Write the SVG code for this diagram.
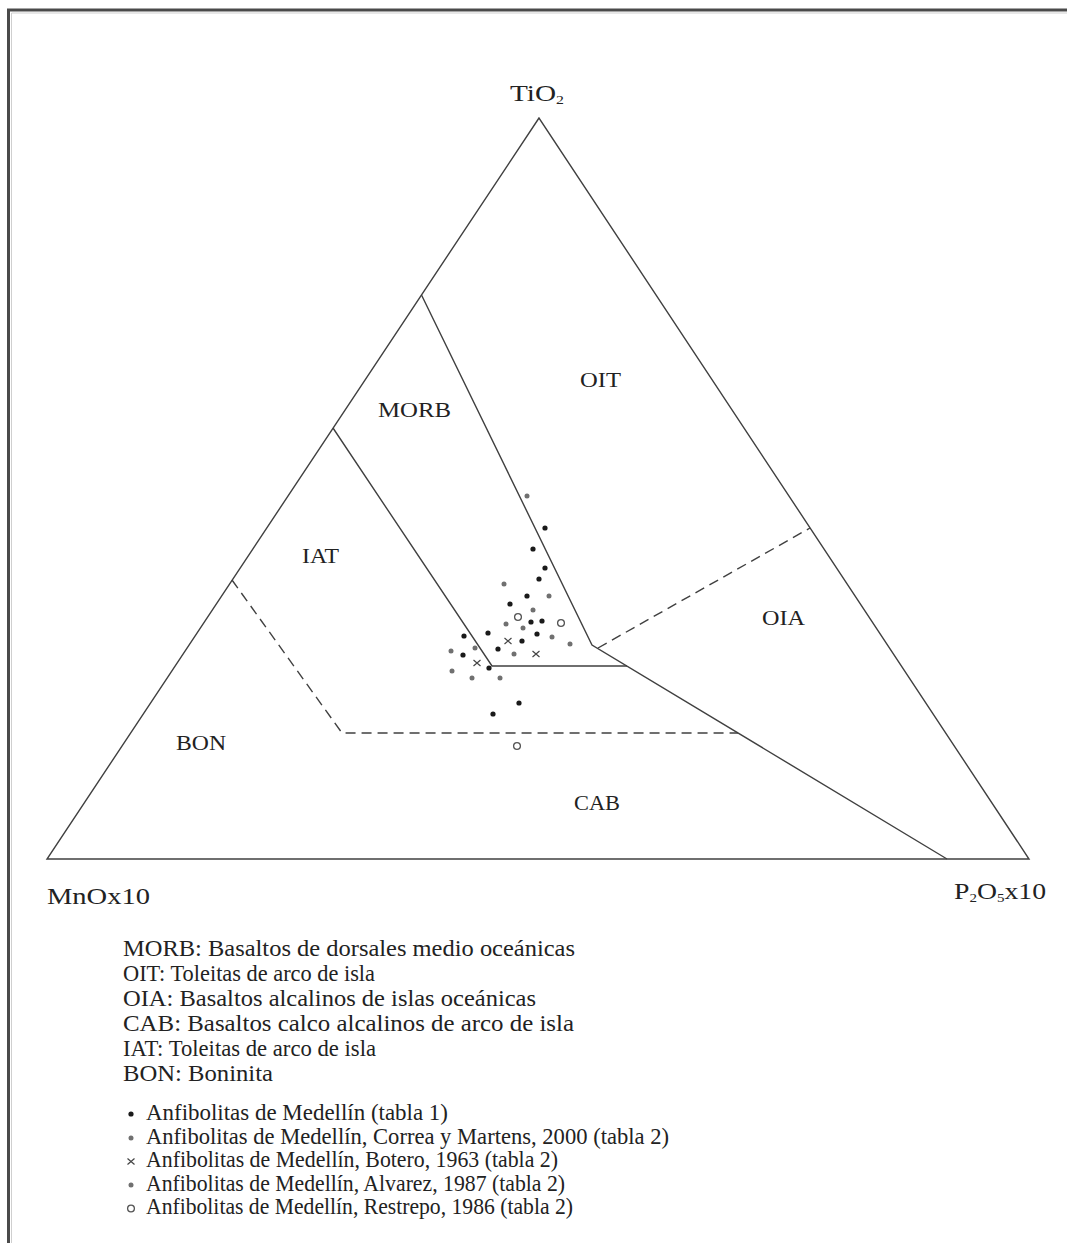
<svg xmlns="http://www.w3.org/2000/svg" width="1067" height="1243" viewBox="0 0 1067 1243">
<style>
.ln{fill:none;stroke:#404040;stroke-width:1.4;stroke-linejoin:miter}
.ds{fill:none;stroke:#404040;stroke-width:1.4;stroke-dasharray:10,6}
.t{font-family:"Liberation Serif","Times New Roman",serif;fill:#222}
.ax{font-size:24px}
.rg{font-size:21px}
.lg{font-size:23px}
.bk{fill:#1a1a1a}
.gy{fill:#707070}
.oc{fill:none;stroke:#555;stroke-width:1.3}
.xm{stroke:#444;stroke-width:1.2;fill:none}
</style>
<defs>
<circle id="db" r="2.6" class="bk"/>
<circle id="dg" r="2.5" class="gy"/>
<circle id="co" r="3.4" class="oc"/>
<path id="xx" d="M-3.5,-3 L3.5,3 M-3.5,3 L3.5,-3" class="xm"/>
</defs>
<rect width="1067" height="1243" fill="#fff"/>
<g id="frame">
<path d="M8.5,1243 V10 H1067" fill="none" stroke="#4a4a4a" stroke-width="3"/>
<path d="M11.5,1243 V13 H1067" fill="none" stroke="#cfcfcf" stroke-width="1"/>
</g>
<g id="connectors">
<path id="triangle" class="ln" d="M539,118 L47,859 L1029,859 Z"/>
<path id="morb-oit" class="ln" d="M421.5,295 L592,645 L947,859"/>
<path id="iat-morb" class="ln" d="M333,428 L492,666 L627,666"/>
<path id="oit-oia" class="ds" d="M598,648 L810,528"/>
<path id="bon-iat" class="ds" d="M232,580 L342,733 L738,733"/>
</g>
<g id="apex-labels">
<g id="label-tio2"><text class="t ax" x="510" y="101" textLength="54" lengthAdjust="spacingAndGlyphs">TiO<tspan font-size="13" dy="3">2</tspan></text></g>
<g id="label-mno"><text class="t ax" x="47" y="904" textLength="103" lengthAdjust="spacingAndGlyphs">MnOx10</text></g>
<g id="label-p2o5"><text class="t ax" x="954" y="899" textLength="92" lengthAdjust="spacingAndGlyphs">P<tspan font-size="13" dy="3">2</tspan><tspan dy="-3">O</tspan><tspan font-size="13" dy="3">5</tspan><tspan dy="-3">x10</tspan></text></g>
</g>
<g id="regions">
<g id="region-oit"><text class="t rg" x="580" y="387" textLength="41" lengthAdjust="spacingAndGlyphs">OIT</text></g>
<g id="region-morb"><text class="t rg" x="378" y="417" textLength="73" lengthAdjust="spacingAndGlyphs">MORB</text></g>
<g id="region-iat"><text class="t rg" x="302" y="563" textLength="37" lengthAdjust="spacingAndGlyphs">IAT</text></g>
<g id="region-oia"><text class="t rg" x="762" y="625" textLength="43" lengthAdjust="spacingAndGlyphs">OIA</text></g>
<g id="region-bon"><text class="t rg" x="176" y="750" textLength="50" lengthAdjust="spacingAndGlyphs">BON</text></g>
<g id="region-cab"><text class="t rg" x="574" y="810" textLength="46" lengthAdjust="spacingAndGlyphs">CAB</text></g>
</g>
<g id="data">
<use href="#dg" x="527" y="496"/>
<use href="#db" x="545" y="528"/>
<use href="#db" x="533" y="549"/>
<use href="#db" x="545" y="568"/>
<use href="#db" x="539" y="579"/>
<use href="#dg" x="504" y="584"/>
<use href="#db" x="527" y="596"/>
<use href="#dg" x="549" y="596"/>
<use href="#db" x="510" y="604"/>
<use href="#dg" x="533" y="610"/>
<use href="#co" x="518" y="617"/>
<use href="#db" x="531" y="622"/>
<use href="#db" x="542" y="621"/>
<use href="#co" x="561" y="623"/>
<use href="#dg" x="506" y="624"/>
<use href="#dg" x="523" y="628"/>
<use href="#db" x="488" y="633"/>
<use href="#db" x="537" y="634"/>
<use href="#db" x="464" y="636"/>
<use href="#dg" x="552" y="637"/>
<use href="#xx" x="508" y="641"/>
<use href="#db" x="522" y="641"/>
<use href="#dg" x="475" y="648"/>
<use href="#db" x="498" y="649"/>
<use href="#dg" x="570" y="644"/>
<use href="#dg" x="451" y="651"/>
<use href="#db" x="463" y="655"/>
<use href="#dg" x="514" y="654"/>
<use href="#xx" x="536" y="654"/>
<use href="#xx" x="477" y="663"/>
<use href="#db" x="489" y="668"/>
<use href="#dg" x="452" y="671"/>
<use href="#dg" x="472" y="678"/>
<use href="#dg" x="500" y="678"/>
<use href="#db" x="519" y="703"/>
<use href="#db" x="493" y="714"/>
<use href="#co" x="517" y="746"/>
</g>
<g id="legend-abbrev">
<text class="t lg" x="123" y="956" textLength="452" lengthAdjust="spacingAndGlyphs">MORB: Basaltos de dorsales medio oceánicas</text>
<text class="t lg" x="123" y="981" textLength="252" lengthAdjust="spacingAndGlyphs">OIT: Toleitas de arco de isla</text>
<text class="t lg" x="123" y="1006" textLength="413" lengthAdjust="spacingAndGlyphs">OIA: Basaltos alcalinos de islas oceánicas</text>
<text class="t lg" x="123" y="1031" textLength="451" lengthAdjust="spacingAndGlyphs">CAB: Basaltos calco alcalinos de arco de isla</text>
<text class="t lg" x="123" y="1056" textLength="253" lengthAdjust="spacingAndGlyphs">IAT: Toleitas de arco de isla</text>
<text class="t lg" x="123" y="1081" textLength="150" lengthAdjust="spacingAndGlyphs">BON: Boninita</text>
</g>
<g id="legend-symbols">
<use href="#db" x="131" y="1114"/>
<text class="t lg" x="146" y="1120" textLength="302" lengthAdjust="spacingAndGlyphs">Anfibolitas de Medellín (tabla 1)</text>
<use href="#dg" x="131" y="1138"/>
<text class="t lg" x="146" y="1143.5" textLength="523" lengthAdjust="spacingAndGlyphs">Anfibolitas de Medellín, Correa y Martens, 2000 (tabla 2)</text>
<use href="#xx" x="131" y="1161.5"/>
<text class="t lg" x="146" y="1167" textLength="412" lengthAdjust="spacingAndGlyphs">Anfibolitas de Medellín, Botero, 1963 (tabla 2)</text>
<use href="#dg" x="131" y="1185"/>
<text class="t lg" x="146" y="1190.5" textLength="419" lengthAdjust="spacingAndGlyphs">Anfibolitas de Medellín, Alvarez, 1987 (tabla 2)</text>
<use href="#co" x="131" y="1208.5"/>
<text class="t lg" x="146" y="1214" textLength="427" lengthAdjust="spacingAndGlyphs">Anfibolitas de Medellín, Restrepo, 1986 (tabla 2)</text>
</g>
</svg>
